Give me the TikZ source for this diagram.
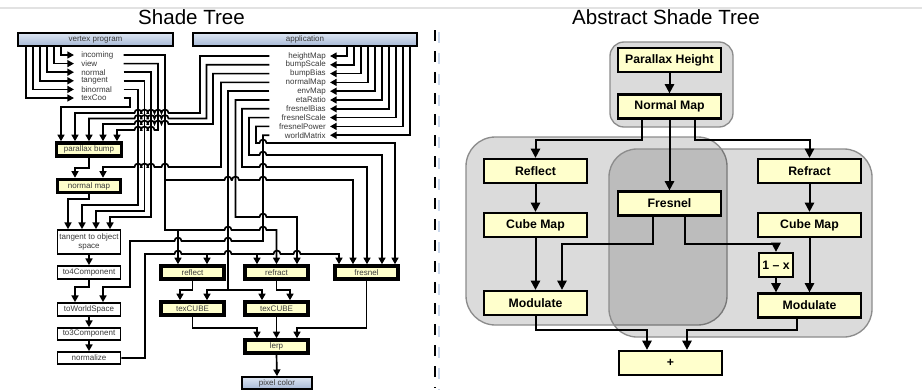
\documentclass[tikz,border=0pt]{standalone}
\usepackage{fontspec}
\setmainfont{Liberation Sans}
\usetikzlibrary{arrows.meta}

\definecolor{boxyellow}{HTML}{FFFFCC}
\definecolor{bartop}{HTML}{DDE6F3}
\definecolor{barbottom}{HTML}{A7B9D6}
\definecolor{inktext}{HTML}{3A3A3A}
\definecolor{grpline}{HTML}{8C8C8C}
\definecolor{rulegray}{HTML}{E2E2E2}
\definecolor{dashshadow}{HTML}{C9D7EC}

% wire hops: a small upward arc where a horizontal wire passes a vertical one
\newcommand\hopR[2]{-- (#1-3.5,#2) arc[start angle=180,end angle=360,radius=3.5]}
\newcommand\hopL[2]{-- (#1+3.5,#2) arc[start angle=0,end angle=-180,radius=3.5]}

\tikzset{
  smalltext/.style={font=\fontsize{6}{6.6}\selectfont, text=inktext},
  wire/.style={line width=1.25pt},
  warr/.style={wire, -{Triangle[length=5pt,width=5.2pt]}},
  opbox/.style={draw, line width=2.6pt, fill=boxyellow, inner sep=0pt,
    minimum width=47.25pt, minimum height=9.75pt, smalltext},
  stepbox/.style={draw, line width=1.3pt, fill=white, inner sep=0pt,
    minimum width=47.25pt, minimum height=9.75pt, smalltext, align=center},
  iobar/.style={draw, line width=1.3pt, top color=bartop, bottom color=barbottom,
    inner sep=0pt, minimum height=9.75pt, smalltext},
  vlabel/.style={smalltext, anchor=west, inner xsep=5.25pt, inner ysep=0pt,
    text width=26.25pt, align=left},
  alabel/.style={smalltext, anchor=east, inner xsep=3pt, inner ysep=0pt,
    text width=39pt, align=right},
  headline/.style={font=\fontsize{15.4}{18}\selectfont, anchor=base},
  abox/.style={draw, line width=1.7pt, fill=boxyellow, inner sep=0pt,
    minimum width=77.25pt, minimum height=18pt,
    font=\bfseries\fontsize{9.2}{11}\selectfont},
  aarr/.style={line width=1.5pt, -{Triangle[length=7pt,width=7pt]}},
  shadegroup/.style={draw=grpline, line width=1pt, fill=black, fill opacity=0.14},
}

\begin{document}
\begin{tikzpicture}[x=0.75pt,y=-0.75pt]
\useasboundingbox (0,0) rectangle (922,390);
\fill[white] (0,0) rectangle (922,390);
\draw[rulegray, line width=0.8pt] (0,8) -- (922,8);

\node[headline] (tL) at (191.5,24) {Shade Tree};
\node[headline] (tR) at (666,24) {Abstract Shade Tree};

% divider between the two trees
\draw[dashshadow, line width=1.5pt, dash pattern=on 8.25pt off 7.5pt] (438.5,32) -- (438.5,390);
\draw[line width=2pt, dash pattern=on 8.25pt off 7.5pt] (435,30) -- (435,388);

% ---------------- shade tree ----------------
\node[iobar, minimum width=116.25pt] (vp) at (95.5,39.5) {vertex program};
\node[iobar, minimum width=168pt] (app) at (305,39.5) {application};

\node[vlabel] (inc)  at (74,55)   {incoming};
\node[vlabel] (view) at (74,63.6) {view};
\node[vlabel] (nrm)  at (74,72.2) {normal};
\node[vlabel] (tgt)  at (74,80.8) {tangent};
\node[vlabel] (bin)  at (74,89.4) {binormal};
\node[vlabel] (tex)  at (74,98)   {texCoo};

\node[alabel] (hm)  at (330,56)    {heightMap};
\node[alabel] (bs)  at (330,64.8)  {bumpScale};
\node[alabel] (bb)  at (330,73.6)  {bumpBias};
\node[alabel] (nmp) at (330,82.4)  {normalMap};
\node[alabel] (env) at (330,91.2)  {envMap};
\node[alabel] (eta) at (330,100)   {etaRatio};
\node[alabel] (fb)  at (330,108.8) {fresnelBias};
\node[alabel] (fsc) at (330,117.6) {fresnelScale};
\node[alabel] (fpw) at (330,126.4) {fresnelPower};
\node[alabel] (wm)  at (330,135.2) {worldMatrix};

\node[opbox, minimum width=48.75pt] (pb) at (89,149.5) {parallax bump};
\node[opbox] (nm) at (89,186) {normal map};
\node[stepbox, minimum height=18pt] (tos) at (89,242) {tangent to object\\space};
\node[stepbox] (t4)  at (89,272.5) {to4Component};
\node[stepbox] (tws) at (89,309.5) {toWorldSpace};
\node[stepbox, minimum height=9pt] (t3) at (89,334) {to3Component};
\node[stepbox, minimum height=9pt] (nz) at (89,358) {normalize};
\node[opbox] (refl) at (192.5,272.5) {reflect};
\node[opbox] (tc1)  at (192.5,308.5) {texCUBE};
\node[opbox] (refr) at (276.5,272.5) {refract};
\node[opbox] (tc2)  at (276.5,308.5) {texCUBE};
\node[opbox] (fres) at (366.5,272.5) {fresnel};
\node[opbox] (lerp) at (276.5,346.5) {lerp};
\node[iobar, minimum width=52.5pt, minimum height=9pt] (pix) at (277,383) {pixel color};

% inputs from the vertex program
\draw[warr] (vp.south -| 61,0) |- (inc.west);
\draw[warr] (vp.south -| 54,0) |- (view.west);
\draw[warr] (vp.south -| 47,0) |- (nrm.west);
\draw[warr] (vp.south -| 40,0) |- (tgt.west);
\draw[warr] (vp.south -| 33,0) |- (bin.west);
\draw[warr] (vp.south -| 26,0) |- (tex.west);

% inputs from the application
\draw[warr] (app.south -| 347,0) |- (hm.east);
\draw[warr] (app.south -| 354,0) |- (bs.east);
\draw[warr] (app.south -| 361,0) |- (bb.east);
\draw[warr] (app.south -| 368,0) |- (nmp.east);
\draw[warr] (app.south -| 375,0) |- (env.east);
\draw[warr] (app.south -| 382,0) |- (eta.east);
\draw[warr] (app.south -| 389,0) |- (fb.east);
\draw[warr] (app.south -| 396,0) |- (fsc.east);
\draw[warr] (app.south -| 403,0) |- (fpw.east);
\draw[warr] (app.south -| 410,0) |- (wm.east);

% parallax bump
\draw[warr] (tex.east) -| (130,107) -- (61,107) -- (pb.north -| 61,0);
\draw[warr] (hm.west) -| (200,113) \hopL{165}{113} \hopL{158}{113} \hopL{151}{113}
  \hopL{144.5}{113} \hopL{138}{113} -- (75,113) -- (pb.north -| 75,0);
\draw[warr] (bs.west) -| (206.5,118.5) \hopL{165}{118.5} \hopL{158}{118.5} \hopL{151}{118.5}
  \hopL{144.5}{118.5} \hopL{138}{118.5} -- (89,118.5) -- (pb.north -| 89,0);
\draw[warr] (bb.west) -| (213,124) \hopL{165}{124} \hopL{158}{124} \hopL{151}{124}
  \hopL{144.5}{124} \hopL{138}{124} -- (103,124) -- (pb.north -| 103,0);
\draw[warr] (view.east) -| (158,130) \hopL{151}{130} \hopL{144.5}{130} \hopL{138}{130}
  -- (117,130) -- (pb.north -| 117,0);

% normal map
\draw[warr] (pb.south) |- (75,168) -- (nm.north -| 75,0);
\draw[warr] (nmp.west) -| (221,167) \hopL{165}{167} \hopL{151}{167} \hopL{144.5}{167}
  \hopL{138}{167} -- (103,167) -- (nm.north -| 103,0);

% tangent to object space and the normal chain
\draw[warr] (nm.south) |- (68,199) -- (tos.north -| 68,0);
\draw[warr] (bin.east) -| (138,205) -- (82,205) -- (tos.north -| 82,0);
\draw[warr] (tgt.east) -| (144.5,211) -- (96,211) -- (tos.north -| 96,0);
\draw[warr] (nrm.east) -| (151,217) -- (110,217) -- (tos.north -| 110,0);
\draw[warr] (tos.south) -- (t4.north);
\draw[warr] (t4.south) |- (75,287) -- (tws.north -| 75,0);
\draw[warr] (wm.west) -| (263,241) \hopL{228}{241} \hopL{178}{241}
  -- (130,241) -- (130,287) -- (103,287) -- (tws.north -| 103,0);
\draw[warr] (tws.south) -- (t3.north);
\draw[warr] (t3.south) -- (nz.north);

% incoming direction
\coordinate (jInA) at (165,180);
\coordinate (jInB) at (178,230);
\draw[warr] (inc.east) -| (165,230) \hopR{228}{230} \hopR{263}{230}
  -- (276.5,230) -- (refr.north);
\draw[warr] (jInB) -- (refl.north -| 178,0);
\draw[warr] (jInA) \hopR{228}{180} \hopR{235.5}{180} \hopR{263}{180}
  -- (353,180) -- (fres.north -| 353,0);

% world-space normal
\coordinate (jNzA) at (207,254);
\coordinate (jNzB) at (257,254);
\draw[warr] (nz.east) -| (145,254) \hopR{178}{254} \hopR{228}{254} \hopR{277}{254}
  \hopR{297}{254} -- (339,254) -- (fres.north -| 339,0);
\draw[warr] (jNzA) -- (refl.north -| 207,0);
\draw[warr] (jNzB) -- (refr.north -| 257,0);

% remaining application parameters
\draw[warr] (eta.west) -| (235.5,217) \hopR{263}{217} -- (297,217) -- (refr.north -| 297,0);
\draw[warr] (fb.west) -| (242,167) \hopR{263}{167} -- (367,167) -- (fres.north -| 367,0);
\draw[warr] (fsc.west) -| (249,155) \hopR{263}{155} -- (382,155) -- (fres.north -| 382,0);
\draw[warr] (fpw.west) -| (256,143) \hopR{263}{143} -- (395,143) -- (fres.north -| 395,0);
\coordinate (jEnv) at (228,290);
\draw[warr] (env.west) -| (jEnv) -- (207,290) -- (tc1.north -| 207,0);
\draw[warr] (jEnv) -- (262,290) -- (tc2.north -| 262,0);

% texture lookups and blend
\draw[warr] (refl.south) |- (180,290) -- (tc1.north -| 180,0);
\draw[warr] (refr.south) |- (290,290) -- (tc2.north -| 290,0);
\draw[warr] (tc1.south) |- (257,328) -- (lerp.north -| 257,0);
\draw[warr] (tc2.south) -- (lerp.north);
\draw[warr] (fres.south) |- (297,328) -- (lerp.north -| 297,0);
\draw[warr] (lerp.south) -- (pix.north);

% ---------------- abstract shade tree ----------------
\draw[shadegroup, rounded corners=10.5pt] (610,42) rectangle (733,127);
\draw[shadegroup, rounded corners=22pt] (466,137) rectangle (727,325);
\draw[shadegroup, rounded corners=21pt] (609,149) rectangle (872,337);

\node[abox] (ph)  at (669.5,60)    {Parallax Height};
\node[abox] (nmb) at (669.5,106.5) {Normal Map};
\node[abox] (rfl) at (535.5,171)   {Reflect};
\node[abox] (cbl) at (535.5,225)   {Cube Map};
\node[abox] (mdl) at (535.5,303)   {Modulate};
\node[abox] (frn) at (669.5,203.5) {Fresnel};
\node[abox] (rfr) at (809.5,171)   {Refract};
\node[abox] (cbr) at (809.5,225)   {Cube Map};
\node[abox, minimum width=25.5pt] (omx) at (776,265) {1 – x};
\node[abox] (mdr) at (809.5,305.5) {Modulate};
\node[abox] (sum) at (670.5,363)   {+};

\draw[aarr] (ph.south) -- (nmb.north);
\draw[aarr] (nmb.south -| 642,0) |- (538,140) -| (rfl.north);
\draw[aarr] (nmb.south) -- (frn.north);
\draw[aarr] (nmb.south -| 695,0) |- (807,140) -| (rfr.north);
\draw[aarr] (rfl.south) -- (cbl.north);
\draw[aarr] (cbl.south) -- (mdl.north);
\draw[aarr] (frn.south -| 653,0) |- (562,244) -- (mdl.north -| 562,0);
\draw[aarr] (frn.south -| 685,0) |- (776,244) -- (omx.north);
\draw[aarr] (rfr.south) -- (cbr.north);
\draw[aarr] (cbr.south) -- (mdr.north);
\draw[aarr] (omx.south) -- (mdr.north -| omx.south);
\draw[aarr] (mdl.south) |- (647,330) -- (sum.north -| 647,0);
\draw[aarr] (mdr.south -| 797,0) |- (687,330) -- (sum.north -| 687,0);
\end{tikzpicture}
\end{document}
